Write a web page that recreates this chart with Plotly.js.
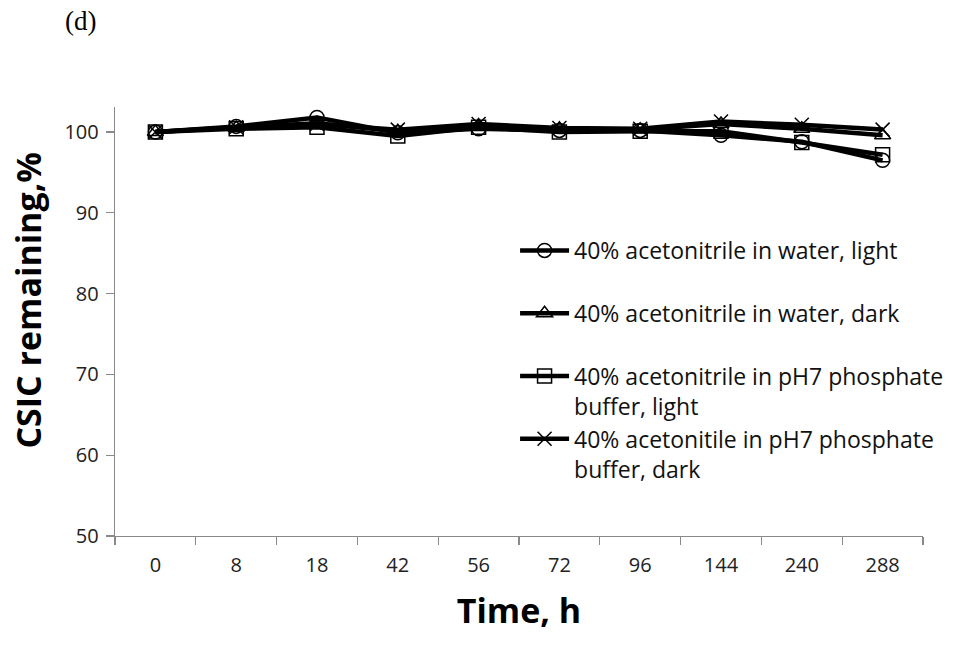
<!DOCTYPE html>
<html>
<head>
<meta charset="utf-8">
<script src="https://cdn.plot.ly/plotly-3.0.1.min.js"></script>
<style>html,body{margin:0;padding:0;background:#fff;}#chart{width:970px;height:645px;}</style>
</head>
<body>
<div id="chart"></div>
<script>
var timeLabels = ['0','8','18','42','56','72','96','144','240','288'];
var waterLight  = [100, 100.7, 101.8, 99.9, 100.4, 100.2, 100.2, 99.6, 98.8, 96.5];
var waterDark   = [100, 100.5, 101.1, 100.1, 100.8, 100.4, 100.3, 101.0, 100.4, 99.6];
var bufferLight = [100, 100.4, 100.6, 99.5, 100.6, 100.0, 100.1, 100.1, 98.7, 97.2];
var bufferDark  = [100, 100.6, 101.0, 100.3, 101.0, 100.5, 100.4, 101.3, 100.9, 100.3];
var seriesNames = [
  '40% acetonitrile in water, light<br> ',
  '40% acetonitrile in water, dark<br> ',
  '40% acetonitrile in pH7 phosphate<br>buffer, light',
  '40% acetonitile in pH7 phosphate<br>buffer, dark'
];
var yTitle = 'CSIC remaining,%';
var xTitle = 'Time, h';
var panelLabel = '(d)';
var symbols = ['circle-open','triangle-up-open','square-open','x-thin-open'];
var allSeries = [waterLight, waterDark, bufferLight, bufferDark];

var traces = allSeries.map(function(vals, i){
  return {
    x: timeLabels, y: vals, type: 'scatter', mode: 'lines+markers',
    name: seriesNames[i],
    line: {color: '#000', width: 4.5},
    marker: {symbol: symbols[i], size: 14, color: '#000', line: {color: '#000', width: 1.5}}
  };
});

var layout = {
  width: 970, height: 645,
  margin: {l: 115, r: 47, t: 107, b: 109, autoexpand: false},
  paper_bgcolor: '#fff', plot_bgcolor: '#fff',
  font: {family: 'Open Sans, sans-serif', color: '#000'},
  showlegend: true,
  legend: {
    xref: 'container', yref: 'container',
    x: 0.531, y: 0.645, xanchor: 'left', yanchor: 'top',
    font: {family: 'Open Sans, sans-serif', size: 23, color: '#111'},
    valign: 'top', itemwidth: 49, tracegroupgap: 0,
    bgcolor: 'rgba(0,0,0,0)'
  },
  xaxis: {
    type: 'category', range: [-0.5, 9.5], tickson: 'boundaries',
    showline: true, linecolor: '#898989', linewidth: 1.3,
    ticks: 'outside', ticklen: 8, tickcolor: '#898989', tickwidth: 1.3,
    showgrid: false, zeroline: false,
    tickfont: {family: 'Open Sans, sans-serif', size: 20, color: '#222'},
    ticklabelstandoff: 11,
    title: {text: '<b>' + xTitle + '</b>', font: {family: 'Open Sans, sans-serif', size: 34, color: '#000'}, standoff: 22}
  },
  yaxis: {
    range: [50, 103.1], tickvals: [50,60,70,80,90,100],
    showline: true, linecolor: '#898989', linewidth: 1.3,
    ticks: 'outside', ticklen: 8, tickcolor: '#898989', tickwidth: 1.3,
    showgrid: false, zeroline: false,
    tickfont: {family: 'Open Sans, sans-serif', size: 20, color: '#222'},
    ticklabelstandoff: 3
  },
  annotations: [{
    text: panelLabel, xref: 'paper', yref: 'paper', x: -0.043, y: 1.2,
    xanchor: 'center', yanchor: 'middle', showarrow: false,
    font: {family: 'Liberation Serif, Times New Roman, serif', size: 27, color: '#000'}
  }, {
    text: '<b>' + yTitle + '</b>', xref: 'paper', yref: 'paper', x: -0.107, y: 0.55,
    xanchor: 'center', yanchor: 'middle', showarrow: false, textangle: -90,
    font: {family: 'Open Sans, sans-serif', size: 34, color: '#000'}
  }]
};

Plotly.newPlot('chart', traces, layout, {displayModeBar: false, staticPlot: true});
</script>
</body>
</html>
